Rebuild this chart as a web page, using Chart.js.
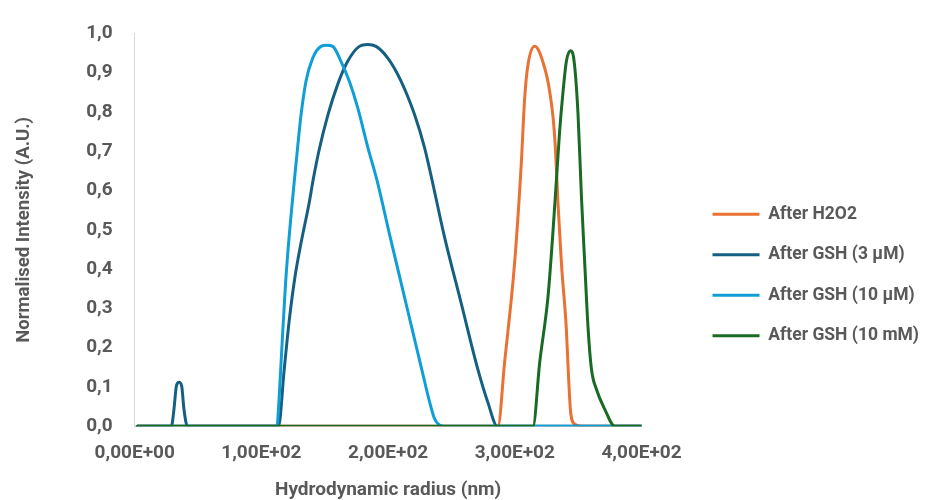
<!DOCTYPE html>
<html>
<head>
<meta charset="utf-8">
<script src="https://cdn.jsdelivr.net/npm/chart.js@4/dist/chart.umd.min.js"></script>
<style>
  body { margin: 0; background: #fff; }
  #wrap { width: 929px; height: 500px; }
</style>
</head>
<body>
<div id="wrap"><canvas id="myChart" width="929" height="500"></canvas></div>
<script>
// series names (legend order)
const seriesNames = ['After H2O2', 'After GSH (3 µM)', 'After GSH (10 µM)', 'After GSH (10 mM)'];
const seriesColors = ['#E97132', '#156082', '#0F9ED5', '#196B24'];

// hydrodynamic radius (nm) / normalised intensity
const h2o2X = [2, 286.7, 291.9, 299.8, 305.1, 307.8, 310.4, 315.7, 323.6, 327.5, 330.2, 332, 334.1, 336.8, 340.7, 342.5, 344.1, 347.3, 352.6, 400];
const h2o2Y = [0, 0, 0.161, 0.414, 0.668, 0.836, 0.92, 0.967, 0.912, 0.853, 0.786, 0.71, 0.566, 0.414, 0.246, 0.119, 0.035, 0.005, 0, 0];

const gsh3X = [2, 29, 31, 32.9, 35, 37.1, 38.9, 41.6, 113.5, 118, 122, 126.5, 131.5, 137.5, 141, 145.7, 152.3, 160.2, 168.1, 177.3, 184, 190.5, 199.8, 210.3, 220.8, 228.7, 233, 244.5, 257.7, 270.9, 278.8, 286.2, 400];
const gsh3Y = [0, 0, 0.043, 0.102, 0.112, 0.102, 0.043, 0, 0, 0.144, 0.27, 0.38, 0.47, 0.565, 0.63, 0.705, 0.79, 0.87, 0.929, 0.967, 0.972, 0.967, 0.937, 0.878, 0.794, 0.71, 0.651, 0.482, 0.313, 0.144, 0.06, 0, 0];

const gsh10uX = [2, 112.3, 113.8, 116.5, 119, 121.3, 123.5, 126, 128.6, 131.2, 135.2, 140.5, 147, 151.5, 156.3, 162.8, 169.4, 176, 184, 191.3, 201.6, 214.1, 226.6, 232.9, 236.8, 244.5, 400];
const gsh10uY = [0, 0, 0.06, 0.22, 0.36, 0.46, 0.54, 0.625, 0.71, 0.79, 0.878, 0.937, 0.967, 0.97, 0.967, 0.929, 0.878, 0.811, 0.71, 0.625, 0.482, 0.313, 0.144, 0.06, 0.018, 0, 0];

const gsh10mX = [2, 314.4, 319.6, 326.2, 330.2, 332.8, 335.4, 338.1, 340.7, 343.9, 346.8, 349.9, 352.6, 355.2, 357.9, 360.5, 364.4, 371, 378.9, 400];
const gsh10mY = [0, 0, 0.161, 0.33, 0.499, 0.625, 0.752, 0.853, 0.929, 0.956, 0.929, 0.794, 0.583, 0.414, 0.246, 0.145, 0.094, 0.043, 0, 0];

// axis ticks
const yTicks = [0, 0.1, 0.2, 0.3, 0.4, 0.5, 0.6, 0.7, 0.8, 0.9, 1.0];
const xTicks = [0, 100, 200, 300, 400];

const textColor = '#595959';
const fontFamily = 'Roboto, "Liberation Sans", sans-serif';

function toPoints(xs, ys) {
    return xs.map((x, i) => ({x: x, y: ys[i]}));
}

function sci(v) {
    if (v === 0) return '0,00E+00';
    const e = Math.floor(Math.log10(v));
    const m = v / Math.pow(10, e);
    return m.toFixed(2).replace('.', ',') + 'E+' + String(e).padStart(2, '0');
}

const allX = [h2o2X, gsh3X, gsh10uX, gsh10mX];
const allY = [h2o2Y, gsh3Y, gsh10uY, gsh10mY];

// last series drawn on top, so dataset list is reversed (legend reversed back)
const datasets = [];
for (let i = seriesNames.length - 1; i >= 0; i--) {
    datasets.push({
        label: seriesNames[i],
        data: toPoints(allX[i], allY[i]),
        borderColor: seriesColors[i],
        backgroundColor: seriesColors[i],
        borderWidth: 3,
        pointRadius: 0,
        showLine: true,
        cubicInterpolationMode: 'monotone',
        borderCapStyle: 'round',
        borderJoinStyle: 'round'
    });
}

const ctx = document.getElementById('myChart');

new Chart(ctx, {
    type: 'scatter',
    data: { datasets: datasets },
    options: {
        responsive: false,
        animation: false,
        layout: { padding: { top: 32, left: 0, right: 0, bottom: 0 } },
        plugins: {
            tooltip: { enabled: false },
            legend: {
                position: 'right',
                align: 'center',
                reverse: true,
                maxWidth: 300,
                title: { display: true, text: ' ', font: { size: 1 }, padding: { top: 0, bottom: 17 } },
                labels: {
                    color: textColor,
                    font: { family: fontFamily, size: 17.5, weight: 'bold' },
                    boxWidth: 47,
                    boxHeight: 3,
                    padding: 23,
                    generateLabels: chart => Chart.defaults.plugins.legend.labels.generateLabels(chart)
                        .map(l => ({...l, lineWidth: 0}))
                }
            }
        },
        scales: {
            x: {
                type: 'linear',
                min: 0,
                max: 400,
                afterBuildTicks: s => { s.ticks = xTicks.map(v => ({value: v})); },
                grid: { display: false, drawTicks: false },
                border: { display: true, color: '#d9d9d9' },
                ticks: {
                    color: textColor,
                    padding: 16,
                    maxRotation: 0,
                    font: { family: fontFamily, size: 19, weight: 'bold' },
                    callback: v => sci(v)
                },
                title: {
                    display: true,
                    text: 'Hydrodynamic radius (nm)',
                    color: textColor,
                    font: { family: fontFamily, size: 19, weight: 'bold', lineHeight: 1 },
                    padding: 0
                }
            },
            y: {
                min: 0,
                max: 1,
                afterBuildTicks: s => { s.ticks = yTicks.map(v => ({value: v})); },
                grid: { display: false, drawTicks: false },
                border: { display: true, color: '#d9d9d9' },
                ticks: {
                    color: textColor,
                    padding: 22,
                    font: { family: fontFamily, size: 19, weight: 'bold' },
                    callback: v => v.toFixed(1).replace('.', ',')
                },
                title: {
                    display: true,
                    text: 'Normalised Intensity (A.U.)',
                    color: textColor,
                    font: { family: fontFamily, size: 18.5, weight: 'bold' },
                    padding: { top: 13, bottom: 29 }
                }
            },
            // spacer between plot and legend
            gap: {
                type: 'linear',
                position: 'right',
                display: false,
                afterFit: s => { s.width = 48; }
            }
        }
    }
});
</script>
</body>
</html>
